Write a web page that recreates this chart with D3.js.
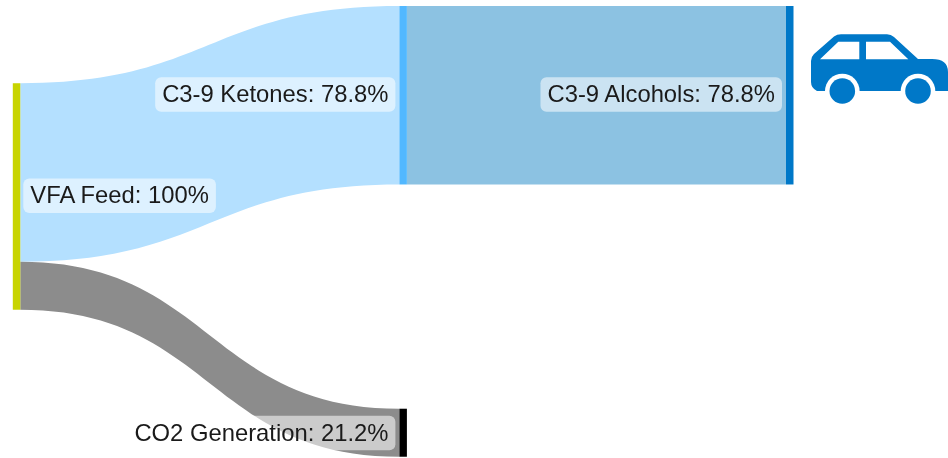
<!DOCTYPE html>
<html>
<head>
<meta charset="utf-8">
<script src="https://cdn.jsdelivr.net/npm/d3@7"></script>
<style>
html,body{margin:0;padding:0;background:#fff;overflow:hidden}
svg{display:block;filter:blur(0.5px)}
text{font-family:"Liberation Sans",Arial,sans-serif;fill:#1a1a1a}
</style>
</head>
<body>
<svg id="chart" width="948" height="458"></svg>
<script>
// Data
const nodeNames = ["VFA Feed", "C3-9 Ketones", "CO2 Generation", "C3-9 Alcohols"];
const nodeValueLabels = ["100%", "78.8%", "21.2%", "78.8%"];
const nodeLayers = [0, 1, 1, 2];
const nodeTops = [34.1, 0, 177.8, 0];     // stacked position, in percent units
const nodeValues = [100, 78.8, 21.2, 78.8];
const nodeColors = ["#c8d400", "#52b8ff", "#000000", "#0078c8"];
const linkSources = [0, 0, 1];
const linkTargets = [1, 2, 3];
const linkValues = [78.8, 21.2, 78.8];
const linkColors = ["#b4e0ff", "#8c8c8c", "#8cc2e2"];

const svg = d3.select("#chart");
const nodeWidth = 7.5;
const x = d3.scaleLinear().domain([0, 2]).range([12.8, 786]);
const y = d3.scaleLinear().domain([0, 100]).range([6, 232.5]);
const h = v => y(v) - y(0);

// link offsets within each node
const srcOffset = nodeNames.map(() => 0);
const links = linkValues.map((v, i) => {
  const s = linkSources[i], t = linkTargets[i];
  const y0s = nodeTops[s] + srcOffset[s];
  srcOffset[s] += v;
  return {
    x0: x(nodeLayers[s]) + nodeWidth, x1: x(nodeLayers[t]),
    s0: y(y0s), s1: y(y0s + v), t0: y(nodeTops[t]), t1: y(nodeTops[t] + v),
    color: linkColors[i]
  };
});

const area = d3.area().curve(d3.curveBumpX).x(d => d.x).y0(d => d.y0).y1(d => d.y1);
svg.append("g").selectAll("path").data(links).join("path")
  .attr("d", l => area([{x: l.x0, y0: l.s0, y1: l.s1}, {x: l.x1, y0: l.t0, y1: l.t1}]))
  .attr("fill", d => d.color);

svg.append("g").selectAll("rect").data(nodeNames).join("rect")
  .attr("x", (d, i) => x(nodeLayers[i]))
  .attr("y", (d, i) => y(nodeTops[i]))
  .attr("width", nodeWidth)
  .attr("height", (d, i) => h(nodeValues[i]))
  .attr("fill", (d, i) => nodeColors[i]);

// Labels: VFA sits to the right of its node, the others to the left
const fontSize = 23.8;
const labels = svg.append("g").selectAll("g").data(nodeNames).join("g");
labels.each(function (d, i) {
  const g = d3.select(this);
  const cy = y(nodeTops[i]) + h(nodeValues[i]) / 2 + (i === 2 ? 0 : -1);
  const right = i === 0;
  const ax = right ? x(nodeLayers[i]) + nodeWidth + 10 : x(nodeLayers[i]) - 11;
  const t = g.append("text")
    .attr("x", ax).attr("y", cy)
    .attr("dy", "0.33em")
    .attr("font-size", fontSize)
    .attr("text-anchor", right ? "start" : "end")
    .text(`${d}: ${nodeValueLabels[i]}`);
  const b = t.node().getBBox();
  g.insert("rect", "text")
    .attr("x", b.x - 7).attr("y", cy - 17)
    .attr("width", b.width + 14).attr("height", 34.5)
    .attr("rx", 6)
    .attr("fill", "#fff").attr("fill-opacity", 0.55);
});

// Car pictogram
const car = svg.append("g");
const carColor = "#0078c8";
car.append("path").attr("fill", carColor).attr("d",
  "M811 61 Q811 57 814 54 L834 36.5 Q837 34.3 841 34.3 L887 34.3 Q891 34.3 894 37 L918 59 L932 59 Q948 59 948 72 L948 91 L817 91 Q811 88 811 82 Z");
car.append("path").attr("fill", "#fff").attr("d",
  "M820 59.3 L838.3 41.7 L859.3 41.7 L859.3 59.3 Z M866 41.7 L890 41.7 L908.3 59.3 L866 59.3 Z");
const wheelX = [842.3, 918];
car.selectAll("circle.well").data(wheelX).join("circle").attr("class", "well")
  .attr("cx", d => d).attr("cy", 91).attr("r", 17.3).attr("fill", "#fff");
car.selectAll("circle.wheel").data(wheelX).join("circle").attr("class", "wheel")
  .attr("cx", d => d).attr("cy", 91).attr("r", 12.8).attr("fill", carColor);
</script>
</body>
</html>
